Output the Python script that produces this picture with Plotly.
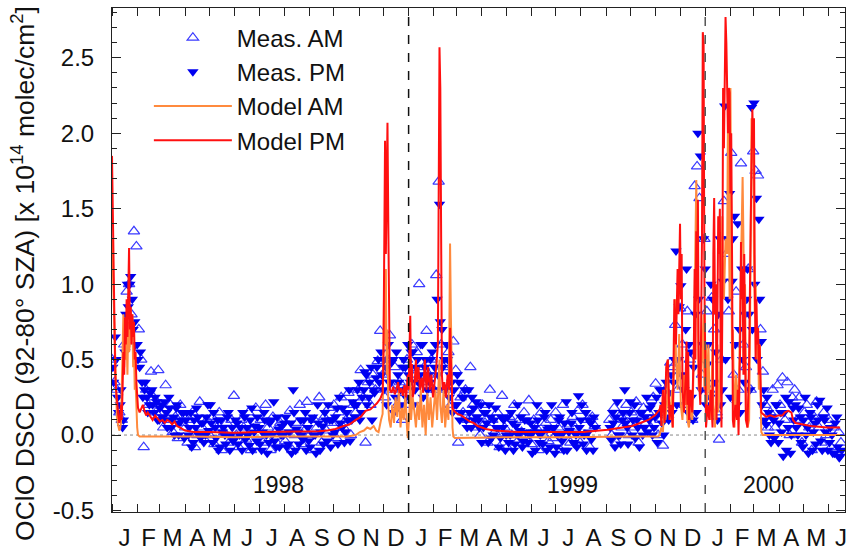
import numpy as np
import pandas as pd
import plotly.graph_objects as go

BASE = pd.Timestamp("1998-01-01")

# ---- measured data: one value every 3 days, blocks of 30 days per line ----
meas_am = [
    0.5, 0.35, 0.3, 0.15, 0.1, 0.6, 0.95, 1.0, 0.8, 1.35,
    1.25, 0.7, 0.5, -0.08, 0.3, 0.2, 0.42, 0.25, 0.15, 0.43,
    0.15, 0.05, 0.33, 0.1, 0.2, 0.02, 0.12, -0.02, 0.2, 0.08,
    0.05, -0.05, 0.1, 0.15, -0.08, 0.0, 0.22, 0.05, -0.03, 0.1,
    0.0, 0.12, -0.06, 0.05, 0.15, -0.1, 0.02, 0.08, -0.05, 0.1,
    0.26, 0.0, -0.08, 0.1, 0.05, -0.03, 0.15, -0.1, 0.04, 0.18,
    0.0, 0.1, -0.05, 0.2, 0.05, -0.1, 0.12, 0.02, -0.06, 0.08,
    0.1, -0.04, 0.05, 0.16, -0.1, 0.0, 0.08, 0.2, -0.06, 0.03,
    0.22, 0.0, -0.1, 0.1, 0.05, 0.25, -0.05, 0.12, 0.03, 0.18,
    0.08, 0.2, -0.02, 0.15, 0.25, 0.05, 0.1, 0.28, 0.0, 0.2,
    0.15, 0.3, 0.43, 0.25, -0.05, 0.35, 0.2, 0.4, 0.3, 0.49,
    0.69, 0.4, 0.25, 0.5, 0.66, 0.3, 0.45, 0.2, 0.35, 0.1,
    0.3, 0.5, 0.2, 0.6, 0.4, 0.55, 1.0, 0.35, 0.45, 0.69,
    0.4, 0.5, 0.3, 1.06, 1.68, 0.6, 0.45, 0.3, 0.55, 0.2,
    0.62, 0.43, -0.05, 0.25, 0.15, 0.3, 0.1, 0.45, 0.2, 0.05,
    0.15, 0.0, 0.2, 0.08, -0.05, 0.3, 0.1, 0.02, 0.15, -0.08,
    0.26, 0.05, -0.08, 0.12, 0.0, 0.2, -0.05, 0.1, 0.02, 0.15,
    0.0, 0.23, -0.06, 0.1, 0.05, -0.1, 0.15, 0.0, 0.08, -0.04,
    0.1, -0.02, 0.15, 0.05, -0.1, 0.2, 0.0, 0.07, -0.05, 0.12,
    0.05, 0.16, -0.05, 0.2, 0.0, 0.1, -0.08, 0.12, 0.06, None,
    None, None, None, None, 0.1, 0.0, 0.18, -0.05, 0.12, 0.05,
    0.1, 0.2, 0.0, 0.15, 0.05, 0.22, -0.05, 0.12, 0.18, 0.08,
    0.15, 0.05, 0.25, 0.34, 0.0, 0.1, -0.07, 0.3, 0.2, 0.48,
    0.45, 0.73, 0.3, 0.84, 0.6, 0.2, 0.82, 0.5, 0.1, 1.65,
    1.78, 1.57, 0.4, 1.3, 0.82, 0.3, 0.91, 0.7, 0.15, -0.03,
    0.5, 1.55, 1.2, 0.82, 1.87, 0.4, 0.95, 0.3, 1.8, 0.6,
    0.45, 1.1, 0.3, 1.88, 1.75, 1.72, 0.7, 0.42, 0.2, 0.05,
    0.15, 0.3, 0.05, 0.33, 0.2, 0.38, 0.1, 0.35, 0.0, 0.25,
    0.3, 0.1, 0.25, -0.05, 0.15, 0.2, 0.05, -0.1, 0.12, 0.22,
    0.05, -0.05, 0.15, 0.0, 0.1, -0.08, 0.05, -0.1, 0.02, -0.05,
]
meas_pm = [
    0.45, 0.65, 0.25, 0.2, 0.05, 0.55, 1.0, 1.0, 0.9, 0.75,
    0.6, 0.45, 0.35, 0.3, 0.25, 0.2, 0.3, 0.15, 0.22, 0.1,
    0.2, 0.1, 0.15, 0.25, 0.05, 0.12, 0.18, 0.0, 0.1, 0.15,
    0.1, 0.0, 0.15, -0.05, 0.05, 0.12, -0.02, 0.08, 0.0, 0.2,
    0.2, -0.05, 0.05, 0.1, -0.08, 0.02, 0.0, 0.12, -0.1, 0.05,
    -0.02, 0.08, 0.0, -0.1, 0.12, 0.05, -0.07, 0.18, 0.02, -0.04,
    0.05, -0.1, 0.15, 0.0, -0.05, 0.1, 0.22, -0.08, 0.04, 0.0,
    0.0, 0.12, -0.06, 0.08, 0.3, -0.1, 0.02, 0.1, -0.03, 0.15,
    0.05, -0.08, 0.12, 0.0, 0.2, -0.1, 0.06, 0.15, -0.04, 0.1,
    0.1, 0.02, 0.18, 0.25, 0.05, -0.05, 0.15, 0.3, 0.1, 0.2,
    0.2, 0.35, 0.15, 0.3, 0.4, 0.25, 0.45, 0.3, 0.38, 0.5,
    0.55, 0.3, 0.45, 0.6, 0.35, 0.5, 0.25, 0.4, 0.3, 0.45,
    0.45, 0.6, 0.35, 0.55, 0.3, 0.5, 0.4, 0.6, 0.45, 0.3,
    0.35, 0.55, 0.45, 0.9, 1.53, 0.7, 0.5, 0.6, 0.25, 0.35,
    0.3, 0.2, 0.35, 0.15, 0.25, 0.1, 0.3, 0.05, 0.18, 0.22,
    0.1, 0.2, 0.05, 0.15, -0.05, 0.12, 0.0, 0.18, 0.05, -0.02,
    0.05, -0.1, 0.12, 0.0, 0.08, -0.06, 0.2, 0.03, -0.08, 0.1,
    0.1, 0.0, -0.12, 0.05, 0.2, -0.05, 0.02, 0.12, -0.1, 0.05,
    0.2, 0.05, -0.08, 0.1, 0.0, -0.1, 0.22, 0.02, 0.08, -0.05,
    0.0, 0.26, 0.1, -0.06, 0.15, 0.02, 0.08, -0.1, 0.05, None,
    None, None, None, None, 0.05, 0.15, -0.08, 0.22, 0.0, 0.1,
    0.3, 0.05, 0.15, 0.0, 0.2, 0.1, -0.08, 0.15, 0.05, 0.25,
    0.1, 0.2, 0.05, 0.25, 0.15, 0.3, 0.0, 0.35, 0.1, 0.4,
    0.35, 1.22, 0.5, 0.99, 0.3, 0.7, 0.15, 0.55, 0.1, 0.8,
    2.0, 1.85, 0.6, 1.1, 0.47, 0.25, 0.9, 0.35, 0.1, 1.3,
    0.3, 2.18, 1.3, 1.6, 1.02, 1.45, 0.2, 0.7, 1.1, 0.35,
    0.9, 0.8, 2.17, 2.2, 1.57, 1.43, 0.62, 0.3, 0.07, 0.15,
    -0.05, 0.1, 0.2, -0.05, 0.15, -0.14, 0.25, 0.05, -0.12, 0.18,
    0.2, 0.0, 0.12, -0.08, 0.25, 0.05, 0.15, -0.1, 0.08, 0.2,
    0.23, -0.1, 0.1, 0.18, -0.05, 0.0, -0.12, 0.12, -0.15, -0.1,
]
meas_pm_b = [
    0.35, 0.5, 0.15, 0.3, 0.1, 0.8, 0.85, 1.05, 0.7, 0.6,
    0.5, 0.55, 0.25, 0.35, 0.15, 0.28, 0.2, 0.25, 0.1, 0.18,
    0.12, 0.22, 0.05, 0.18, 0.1, 0.0, 0.2, 0.08, 0.15, -0.02,
    0.15, 0.05, -0.08, 0.1, 0.18, 0.0, 0.08, -0.05, 0.12, 0.03,
    0.08, 0.15, -0.02, -0.1, 0.1, 0.05, -0.06, 0.15, 0.0, -0.04,
    0.1, -0.06, 0.05, 0.15, -0.03, 0.0, 0.1, -0.1, 0.06, 0.12,
    -0.06, 0.02, 0.1, -0.12, 0.08, 0.0, -0.04, 0.12, -0.08, 0.06,
    0.08, -0.08, 0.02, -0.12, 0.15, 0.04, -0.06, 0.0, 0.1, -0.1,
    -0.04, 0.1, 0.0, -0.12, 0.08, 0.02, -0.06, 0.1, 0.2, -0.08,
    0.0, 0.12, -0.06, 0.08, 0.18, 0.02, 0.1, -0.04, 0.22, 0.12,
    0.3, 0.1, 0.25, 0.42, 0.2, 0.35, 0.1, 0.28, 0.45, 0.35,
    0.4, 0.5, 0.2, 0.35, 0.48, 0.15, 0.55, 0.35, 0.2, 0.5,
    0.25, 0.4, 0.55, 0.2, 0.45, 0.35, 0.6, 0.25, 0.5, 0.4,
    0.5, 0.3, 0.6, 0.4, 0.75, 0.45, 0.3, 0.5, 0.4, 0.15,
    0.2, 0.4, 0.1, 0.25, 0.3, 0.05, 0.15, 0.25, 0.1, 0.12,
    0.05, -0.05, 0.15, 0.08, 0.2, -0.02, 0.1, 0.05, -0.08, 0.12,
    0.1, 0.0, -0.05, 0.15, -0.1, 0.06, 0.0, 0.12, -0.04, 0.02,
    -0.05, 0.08, 0.02, -0.1, 0.1, 0.0, -0.06, 0.15, 0.04, -0.08,
    0.05, -0.12, 0.0, 0.12, -0.04, 0.08, -0.1, 0.03, 0.15, -0.06,
    -0.08, 0.05, 0.2, 0.0, -0.1, 0.1, -0.03, 0.12, None, None,
    None, None, None, None, -0.03, 0.08, 0.12, 0.0, -0.06, 0.15,
    0.08, -0.06, 0.22, 0.1, -0.02, 0.05, 0.15, 0.0, 0.12, 0.02,
    0.18, 0.0, 0.12, -0.05, 0.3, 0.08, 0.2, 0.12, 0.28, 0.15,
    0.5, 0.2, 0.85, 0.4, 0.3, 1.1, 0.6, 0.25, 0.45, 0.15,
    0.9, 0.3, 1.3, 0.2, 0.6, 1.0, 0.15, 0.55, 0.8, 0.2,
    1.02, 0.5, 0.9, 0.25, 1.3, 0.6, 1.4, 0.15, 0.5, 0.8,
    1.1, 0.3, 0.7, 1.0, 0.5, 0.9, 0.2, 0.1, 0.25, 0.0,
    0.12, -0.02, 0.2, 0.08, 0.02, 0.15, -0.1, 0.22, 0.0, 0.1,
    0.05, 0.18, -0.05, 0.1, 0.0, -0.12, 0.12, 0.02, -0.06, 0.1,
    -0.04, 0.12, 0.02, -0.1, 0.05, -0.12, 0.08, -0.08, -0.14, None,
]
meas_step_days = 3
meas_am_first_day = 0
meas_pm_first_day = 1
meas_pm_b_first_day = 2

# ---- model curves: (day since 1998-01-01, value) ----
model_am = [
    (0, 1.3), (1, 1.1), (2, 0.9), (3, 0.55), (4, 0.35), (5, 0.2), (6, 0.12), (7, 0.08), (8, 0.05), (9, 0.03),
    (10, 0.04), (11, 0.08), (12, 0.3), (13, 0.6), (14, 0.8), (15, 0.45), (16, 0.7), (17, 0.5), (18, 0.65), (19, 0.4),
    (20, 0.75), (21, 0.55), (22, 0.6), (23, 0.84), (24, 0.7), (25, 0.8), (26, 0.45), (27, 0.6), (28, 0.3), (29, 0.35),
    (30, 0.15), (31, 0.05), (32, 0.0), (34, -0.01), (60, -0.01), (100, -0.01), (150, -0.015), (200, -0.01),
    (250, -0.01), (290, -0.01), (300, 0.0), (305, 0.02), (310, 0.03), (314, 0.05), (318, 0.04), (322, 0.06),
    (325, 0.03), (328, 0.02), (331, 0.1), (333, 0.14), (334, 0.5), (335, 1.05), (336, 0.6), (337, 1.1), (338, 0.4),
    (339, 0.7), (340, 0.2), (341, 0.1), (343, 0.05), (345, 0.2), (347, 0.08), (349, 0.25), (351, 0.12), (353, 0.3),
    (355, 0.05), (357, 0.18), (359, 0.1), (361, 0.27), (363, 0.05), (364, -0.02), (366, 0.15), (367, 0.45),
    (368, 0.1), (370, 0.25), (372, 0.16), (374, 0.05), (376, 0.22), (378, 0.1), (380, 0.3), (382, 0.05), (384, 0.2),
    (386, 0.0), (388, 0.28), (390, 0.1), (392, 0.25), (394, 0.05), (396, 0.18), (398, 0.3), (400, 0.1), (402, 0.35),
    (403, 0.5), (404, 0.2), (406, 0.08), (408, 0.3), (410, 0.05), (412, 0.2), (414, 0.1), (415, 0.6), (416, 1.27),
    (417, 0.8), (418, 0.18), (419, 0.05), (420, -0.01), (422, -0.02), (480, -0.015), (560, -0.015), (640, -0.01),
    (672, -0.01), (674, 0.0), (676, 0.05), (678, 0.02), (680, 0.3), (681, 0.1), (683, 0.2), (684, 0.5), (685, 0.25),
    (687, 0.1), (689, 0.3), (690, 0.05), (692, 0.6), (693, 0.9), (694, 0.5), (696, 0.3), (698, 0.67), (699, 0.4),
    (700, 0.2), (702, 0.1), (704, 0.4), (705, 0.2), (707, 0.3), (708, 0.1), (710, 0.05), (712, 0.2), (714, 0.1),
    (716, 0.5), (717, 1.0), (718, 1.4), (719, 1.69), (720, 1.2), (721, 0.7), (722, 0.3), (724, 0.3), (726, 0.5),
    (728, 0.8), (729, 0.3), (731, 0.6), (732, 0.2), (734, 0.6), (735, 0.3), (737, 0.1), (739, 0.6), (740, 0.2),
    (742, 0.05), (744, 0.3), (745, 0.6), (746, 0.15), (748, 0.3), (750, 0.9), (751, 1.45), (752, 1.0), (753, 0.9),
    (755, 1.3), (757, 1.2), (758, 2.15), (759, 1.5), (760, 0.9), (761, 2.3), (762, 1.3), (763, 0.5), (764, 0.7),
    (765, 0.2), (766, 0.05), (768, 0.4), (770, 0.1), (772, 0.5), (774, 1.0), (775, 1.4), (776, 1.71), (777, 1.3),
    (778, 0.8), (779, 1.0), (780, 0.3), (782, 0.05), (784, 0.1), (785, 0.6), (786, 1.5), (787, 2.1), (788, 1.8),
    (789, 2.05), (790, 1.2), (791, 0.8), (792, 1.0), (793, 0.71), (794, 0.5), (795, 0.7), (796, 0.3), (797, 0.6),
    (798, 0.15), (799, 0.02), (801, 0.0), (820, 0.0), (860, 0.0), (896, 0.0),
]
model_pm = [
    (0, 1.85), (1, 1.4), (2, 0.95), (3, 0.6), (4, 0.4), (5, 0.3), (6, 0.22), (7, 0.15), (8, 0.12), (9, 0.08),
    (10, 0.1), (11, 0.2), (12, 0.1), (13, 0.3), (14, 0.55), (15, 0.4), (16, 0.78), (17, 0.6), (18, 0.9), (19, 0.65),
    (20, 1.0), (21, 1.24), (22, 0.7), (23, 0.85), (24, 0.6), (25, 0.8), (26, 0.65), (27, 0.75), (28, 0.5), (29, 0.55),
    (30, 0.35), (31, 0.25), (32, 0.18), (34, 0.15), (36, 0.17), (38, 0.2), (40, 0.16), (42, 0.13), (44, 0.15),
    (47, 0.12), (50, 0.1), (53, 0.13), (56, 0.11), (59, 0.09), (62, 0.1), (65, 0.08), (68, 0.1), (71, 0.09),
    (74, 0.07), (77, 0.09), (80, 0.06), (83, 0.05), (86, 0.04), (90, 0.03), (95, 0.025), (100, 0.02), (120, 0.02),
    (150, 0.015), (180, 0.02), (210, 0.02), (240, 0.02), (255, 0.025), (265, 0.03), (275, 0.04), (285, 0.06),
    (292, 0.07), (300, 0.1), (306, 0.12), (312, 0.16), (318, 0.17), (322, 0.19), (326, 0.21), (330, 0.24),
    (333, 0.28), (334, 0.5), (335, 1.3), (336, 1.95), (337, 1.2), (338, 2.0), (339, 2.07), (340, 1.4), (341, 0.6),
    (342, 0.3), (344, 0.28), (346, 0.32), (348, 0.27), (350, 0.3), (352, 0.35), (354, 0.28), (356, 0.31),
    (358, 0.26), (360, 0.33), (362, 0.25), (364, 0.4), (365, 0.3), (366, 0.55), (367, 0.79), (368, 0.35),
    (369, 0.47), (370, 0.25), (372, 0.3), (374, 0.5), (375, 0.35), (377, 0.45), (379, 0.3), (381, 0.38),
    (383, 0.28), (385, 0.5), (387, 0.3), (389, 0.45), (391, 0.3), (393, 0.4), (395, 0.25), (397, 0.35),
    (399, 0.45), (401, 0.6), (402, 1.8), (403, 2.57), (404, 2.3), (405, 1.0), (406, 0.4), (407, 0.3), (409, 0.35),
    (411, 0.25), (413, 0.4), (415, 0.3), (416, 0.71), (417, 0.5), (418, 0.25), (419, 0.18), (421, 0.16),
    (425, 0.14), (430, 0.13), (435, 0.11), (440, 0.09), (445, 0.08), (450, 0.06), (455, 0.05), (460, 0.04),
    (470, 0.03), (485, 0.025), (500, 0.02), (540, 0.02), (580, 0.02), (610, 0.035), (625, 0.045), (640, 0.06),
    (650, 0.08), (660, 0.1), (668, 0.13), (672, 0.16), (674, 0.17), (675, 0.2), (676, 0.06), (678, 0.3),
    (680, 0.08), (682, 0.45), (684, 0.5), (686, 0.1), (688, 0.2), (690, 0.05), (692, 0.9), (694, 0.6), (696, 1.1),
    (697, 0.8), (699, 1.4), (700, 0.9), (701, 1.2), (702, 0.3), (704, 0.15), (706, 0.4), (707, 0.62), (708, 0.2),
    (709, 0.55), (710, 0.1), (712, 0.3), (714, 0.15), (716, 0.6), (717, 1.1), (718, 0.5), (719, 1.35), (720, 0.9),
    (721, 1.56), (722, 0.4), (724, 0.2), (725, 0.9), (726, 1.3), (727, 2.67), (728, 2.6), (729, 1.0), (730, 0.3),
    (731, 0.05), (733, 0.2), (735, 0.1), (737, 0.3), (739, 0.05), (740, 1.2), (741, 1.57), (742, 0.8), (743, 1.0),
    (744, 0.1), (745, 0.6), (746, 1.45), (747, 1.2), (748, 1.5), (749, 0.5), (750, 0.05), (751, 0.8), (752, 2.3),
    (753, 1.9), (754, 2.5), (755, 2.77), (756, 2.6), (757, 2.2), (758, 2.0), (759, 2.3), (760, 2.27), (761, 1.6),
    (762, 2.0), (763, 1.2), (764, 0.1), (765, 0.05), (767, 0.2), (769, 0.1), (770, 0.3), (771, 0.0), (773, 0.6),
    (774, 1.28), (775, 0.9), (776, 1.1), (777, 0.4), (778, 1.2), (779, 0.7), (780, 0.1), (782, 0.05), (784, 0.5),
    (786, 1.4), (787, 2.0), (788, 2.16), (789, 1.9), (790, 2.1), (791, 1.0), (792, 0.5), (793, 0.9), (794, 0.6),
    (795, 0.71), (796, 0.4), (797, 0.6), (798, 0.3), (799, 0.15), (801, 0.14), (805, 0.12), (810, 0.13),
    (815, 0.12), (820, 0.13), (825, 0.13), (828, 0.15), (832, 0.16), (836, 0.15), (838, 0.1), (841, 0.08),
    (850, 0.07), (860, 0.06), (870, 0.055), (880, 0.05), (896, 0.05),
]

month_letters = ["J", "F", "M", "A", "M", "J", "J", "A", "S", "O", "N", "D"] * 2 + ["J", "F", "M", "A", "M", "J"]
y_tick_values = [-0.5, 0.0, 0.5, 1.0, 1.5, 2.0, 2.5]
y_tick_labels = ["-0.5", "0.0", "0.5", "1.0", "1.5", "2.0", "2.5"]
year_labels = ["1998", "1999", "2000"]
year_label_dates = ["1998-07-25", "1999-07-22", "2000-03-19"]
year_label_y = -0.33
year_bounds = ["1999-01-01", "2000-01-01"]
y_title = "OClO DSCD (92-80° SZA) [x 10<sup>14</sup> molec/cm<sup>2</sup>]"


def to_dates(days):
    return BASE + pd.to_timedelta(np.asarray(days, dtype=float), unit="D")


am_x = to_dates(meas_am_first_day + meas_step_days * np.arange(len(meas_am)))
pm_x = np.concatenate([
    to_dates(meas_pm_first_day + meas_step_days * np.arange(len(meas_pm))).values,
    to_dates(meas_pm_b_first_day + meas_step_days * np.arange(len(meas_pm_b))).values,
])
pm_y = meas_pm + meas_pm_b
mam_x = to_dates([d for d, _ in model_am])
mam_y = [v for _, v in model_am]
mpm_x = to_dates([d for d, _ in model_pm])
mpm_y = [v for _, v in model_pm]

FONT = "Arial, 'Liberation Sans', Helvetica, sans-serif"
BLUE_OPEN = "#3a3aff"
BLUE_FILL = "#0000f0"
ORANGE = "#ff8a3d"
RED = "#ff1010"

fig = go.Figure()
fig.add_trace(go.Scatter(x=am_x, y=meas_am, mode="markers", name="Meas. AM", legendgroup="a",
                         marker=dict(symbol="triangle-up-open", size=10, color=BLUE_OPEN, line=dict(width=1.2))))
fig.add_trace(go.Scatter(x=pm_x, y=pm_y, mode="markers", name="Meas. PM", legendgroup="b",
                         marker=dict(symbol="triangle-down", size=10, color=BLUE_FILL)))
fig.add_trace(go.Scatter(x=mam_x, y=mam_y, mode="lines", name="Model AM", legendgroup="c",
                         line=dict(color=ORANGE, width=2)))
fig.add_trace(go.Scatter(x=mpm_x, y=mpm_y, mode="lines", name="Model PM", legendgroup="d",
                         line=dict(color=RED, width=2)))

month_starts = pd.date_range("1998-01-01", "2000-07-01", freq="MS")
mid_months = [s + (e - s) / 2 for s, e in zip(month_starts[:-1], month_starts[1:])]

fig.update_layout(
    width=853, height=557,
    margin=dict(l=112, r=6, t=8, b=42),
    paper_bgcolor="white", plot_bgcolor="white",
    font=dict(family=FONT, size=24, color="#111"),
    showlegend=True,
    legend=dict(x=0.0503, y=0.985, xanchor="left", yanchor="top", bgcolor="rgba(0,0,0,0)",
                font=dict(size=24), traceorder="grouped", tracegroupgap=0, itemwidth=78),
    xaxis=dict(
        type="date", range=[BASE, BASE + pd.Timedelta(days=902)],
        tickmode="array", tickvals=mid_months, ticktext=month_letters[:len(mid_months)],
        ticks="", showgrid=False, zeroline=False, tickfont=dict(size=24),
        showline=True, linecolor="#222", linewidth=1, mirror="ticks",
        ticklabelstandoff=4,
        minor=dict(tickmode="array", tickvals=list(month_starts), ticks="inside", ticklen=8,
                   tickcolor="#222", showgrid=False),
    ),
    yaxis=dict(
        range=[-0.51, 2.83], tickmode="array", tickvals=y_tick_values, ticktext=y_tick_labels,
        ticks="inside", ticklen=9, tickcolor="#222", tickfont=dict(size=24),
        showgrid=False, zeroline=False, showline=True, linecolor="#222", linewidth=1, mirror="ticks",
        ticklabelstandoff=12,
        minor=dict(dtick=0.1, ticks="inside", ticklen=5, tickcolor="#222", showgrid=False),
    ),
)

fig.add_annotation(xref="paper", yref="paper", x=-0.1224, y=0.473, text=y_title, textangle=-90,
                   showarrow=False, xanchor="center", yanchor="middle", font=dict(size=26.5, color="#111"))
fig.add_hline(y=0, line=dict(color="#888", width=1, dash="dot"), layer="below")
fig.add_shape(type="line", xref="x", yref="paper", x0=year_bounds[0], x1=year_bounds[0], y0=0, y1=1,
              line=dict(color="#111", width=1.5, dash="dash"))
fig.add_shape(type="line", xref="x", yref="paper", x0=year_bounds[1], x1=year_bounds[1], y0=0, y1=1,
              line=dict(color="#555", width=1.5, dash="dash"))
for lbl, d in zip(year_labels, year_label_dates):
    fig.add_annotation(x=d, y=year_label_y, text=lbl, showarrow=False, font=dict(size=23, color="#111"))

fig.write_html("out.html")
